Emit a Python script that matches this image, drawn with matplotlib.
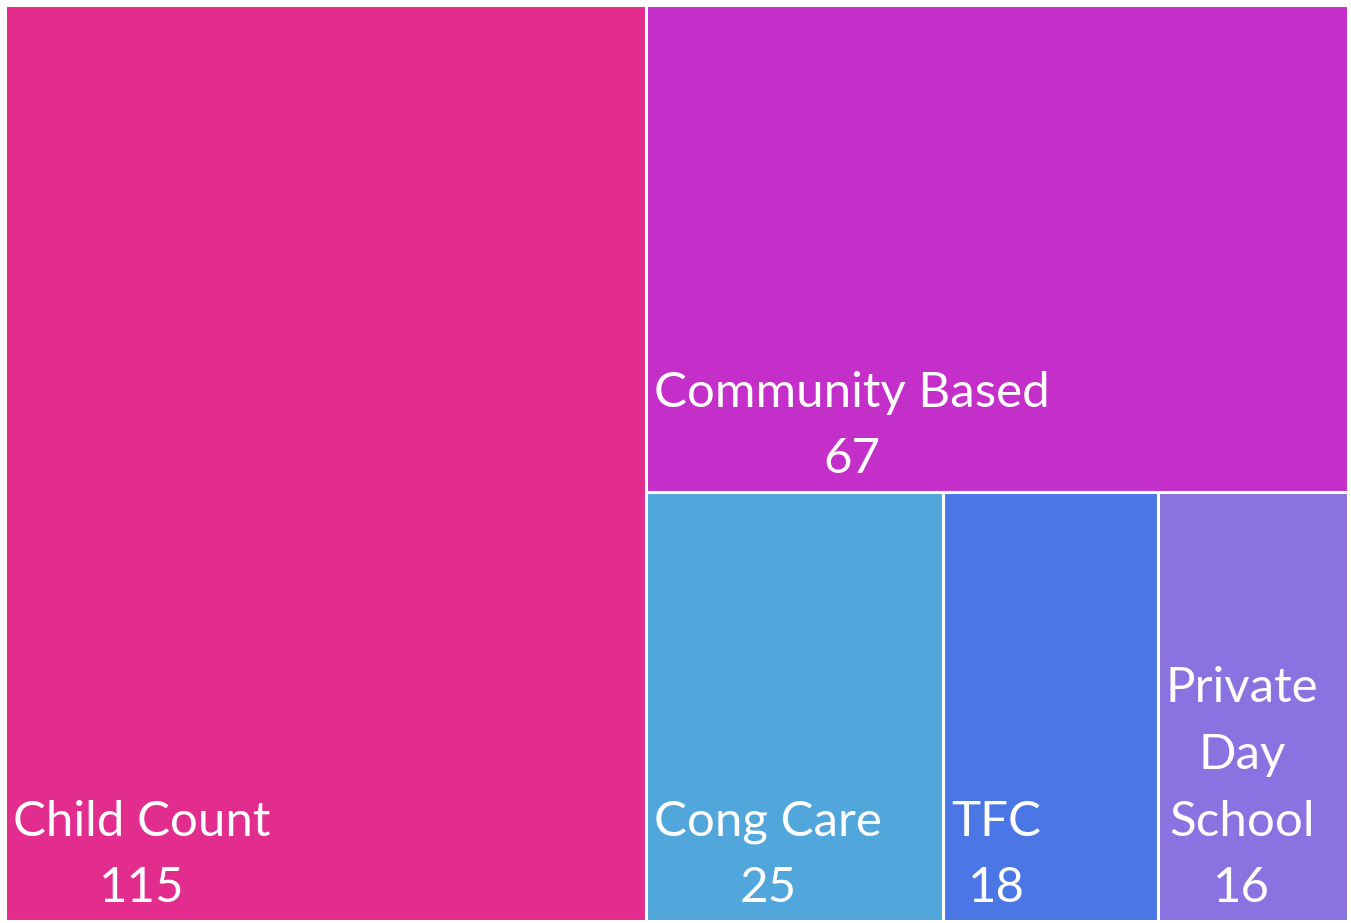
import matplotlib
matplotlib.use('Agg')
import matplotlib.pyplot as plt
from matplotlib.patches import Rectangle

# treemap data
labels = ['Child Count', 'Community Based', 'Cong Care', 'TFC', 'Private Day School']
display_labels = ['Child Count', 'Community Based', 'Cong Care', 'TFC', 'Private\nDay\nSchool']
values = [115, 67, 25, 18, 16]
colors = ['#E32D8E', '#C42FC9', '#51A6DB', '#4A76E6', '#8A72E0']

W, H = 1351, 923
fig = plt.figure(figsize=(W / 100, H / 100), dpi=100)
# axes placed in pixel terms: left 5, right 1348, top 5, bottom 921
ax = fig.add_axes([5 / W, 1 - 921 / H, 1343 / W, 916 / H])
ax.set_xlim(0, 1)
ax.set_ylim(0, 1)
ax.axis('off')

total = sum(values)
rest = sum(values[1:])
bottom_sum = sum(values[2:])

# layout: first item is a full-height column, second item fills the top of
# the remaining area, the others share the bottom row
x0 = values[0] / total
rects = [(0, 0, x0, 1)]
h_top = values[1] / rest
rects.append((x0, 1 - h_top, 1 - x0, h_top))
x = x0
for v in values[2:]:
    w = (1 - x0) * v / bottom_sum
    rects.append((x, 0, w, 1 - h_top))
    x += w

for (rx, ry, rw, rh), c in zip(rects, colors):
    ax.add_patch(Rectangle((rx, ry), rw, rh, facecolor=c, edgecolor='white', linewidth=2.2))

fig.canvas.draw()
renderer = fig.canvas.get_renderer()
font = dict(family=['Lato', 'DejaVu Sans'], fontsize=35.5, color='white')
step = 66.5  # px between baselines

for (rx, ry, rw, rh), lab, v in zip(rects, display_labels, values):
    lines = lab.split('\n') + [str(v)]
    # left edge of widest line sits 8 px inside rect; all lines centred on it
    widths = []
    for ln in lines:
        t = ax.text(0, 0, ln, **font)
        widths.append(t.get_window_extent(renderer).width)
        t.remove()
    cx_px = 8 + max(widths) / 2
    n = len(lines)
    for i, ln in enumerate(lines):
        up = 19 + (n - 1 - i) * step
        ax.annotate(ln, xy=(rx, ry), xycoords='data', xytext=(cx_px, up),
                    textcoords='offset pixels', ha='center', va='baseline', **font)

fig.savefig('out.png', dpi=100, facecolor='white')
